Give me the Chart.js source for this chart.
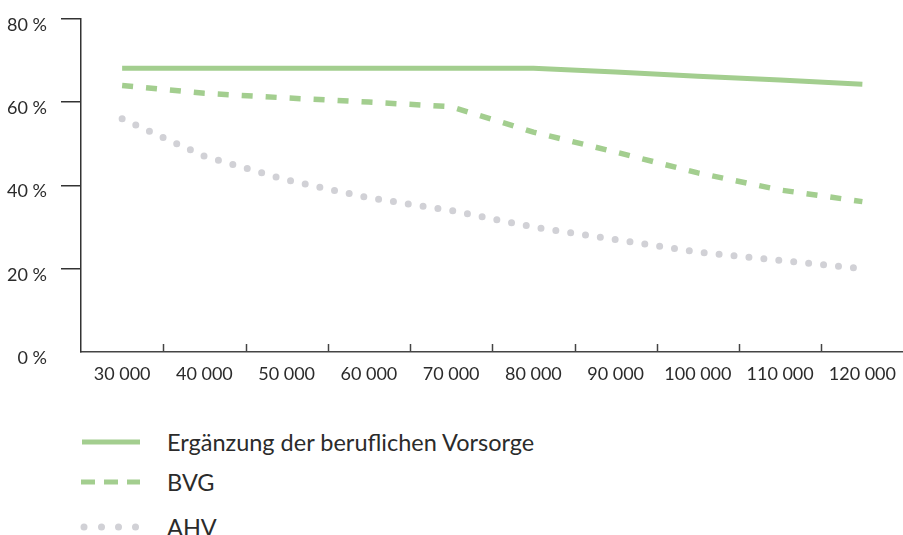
<!DOCTYPE html>
<html>
<head>
<meta charset="utf-8">
<script src="https://cdn.jsdelivr.net/npm/chart.js@4"></script>
<style>
  html, body { margin:0; padding:0; background:#fff; }
  body { width:903px; height:535px; position:relative; overflow:hidden; font-family: Lato, "Open Sans", sans-serif; color:#2b2b2b; }
  #wrap { position:absolute; left:0; top:-6px; width:907px; height:398px; }
  .item { position:absolute; left:0; width:903px; height:30px; }
  .item svg { position:absolute; left:0; top:0; }
  .item span { position:absolute; left:167px; top:0; line-height:30px; font-size:23.5px; white-space:nowrap; }
</style>
</head>
<body>
<div id="wrap"><canvas id="c"></canvas></div>
<div class="item" style="top:427px">
  <svg width="160" height="30"><line x1="82" y1="15" x2="140" y2="15" stroke="#a3ce8f" stroke-width="5"/></svg>
  <span>Ergänzung der beruflichen Vorsorge</span>
</div>
<div class="item" style="top:467px">
  <svg width="160" height="30"><line x1="81" y1="15" x2="140" y2="15" stroke="#a3ce8f" stroke-width="5" stroke-dasharray="14 9"/></svg>
  <span>BVG</span>
</div>
<div class="item" style="top:512px">
  <svg width="160" height="30"><circle cx="84" cy="15" r="3.5" fill="#d1d1d6"/><circle cx="101.5" cy="15" r="3.5" fill="#d1d1d6"/><circle cx="118.5" cy="15" r="3.5" fill="#d1d1d6"/><circle cx="135.5" cy="15" r="3.5" fill="#d1d1d6"/></svg>
  <span>AHV</span>
</div>
<script>
const categories = ['30 000','40 000','50 000','60 000','70 000','80 000','90 000','100 000','110 000','120 000'];
const ergaenzung = [68.1, 68.1, 68.1, 68.1, 68.1, 68.1, 67.2, 66.2, 65.3, 64.3];
const bvg = [64.0, 62.1, 61.0, 60.0, 58.9, 52.8, 48.0, 43.0, 38.9, 36.1];
const ahv = [56.0, 47.0, 41.3, 37.0, 34.0, 30.0, 27.0, 24.0, 22.0, 20.0];
const yTicks = [0, 20, 40, 60, 80];
const seriesNames = ['Ergänzung der beruflichen Vorsorge', 'BVG', 'AHV'];

const innerTicks = {
  id: 'innerTicks',
  afterDraw(chart) {
    const xs = chart.scales.x;
    const ctx = chart.ctx;
    const bottom = chart.chartArea.bottom;
    ctx.save();
    ctx.strokeStyle = '#444';
    ctx.lineWidth = 1.5;
    for (let i = 0; i < categories.length - 1; i++) {
      const x = Math.round((xs.getPixelForTick(i) + xs.getPixelForTick(i + 1)) / 2) + 0.5;
      ctx.beginPath();
      ctx.moveTo(x, bottom - 8);
      ctx.lineTo(x, bottom);
      ctx.stroke();
    }
    ctx.restore();
  }
};

new Chart(document.getElementById('c'), {
  type: 'line',
  data: {
    labels: categories,
    datasets: [
      { label: seriesNames[0], data: ergaenzung, borderColor: '#a3ce8f', borderWidth: 5, pointRadius: 0, tension: 0, borderCapStyle: 'butt' },
      { label: seriesNames[1], data: bvg, borderColor: '#a3ce8f', borderWidth: 5.5, borderDash: [11, 13], pointRadius: 0, tension: 0, borderCapStyle: 'butt' },
      { label: seriesNames[2], data: ahv, borderColor: '#d1d1d6', borderWidth: 7, borderDash: [0, 15], borderCapStyle: 'round', pointRadius: 0, tension: 0 }
    ]
  },
  options: {
    responsive: true,
    maintainAspectRatio: false,
    animation: false,
    events: [],
    layout: { autoPadding: false, padding: { top: 12, right: 0, left: 0, bottom: 0 } },
    plugins: { legend: { display: false }, tooltip: { enabled: false } },
    scales: {
      x: {
        offset: true,
        grid: { display: true, drawOnChartArea: false, drawTicks: false, offset: true },
        border: { display: true, color: '#444', width: 1.5 },
        ticks: { color: '#2b2b2b', font: { family: 'Lato', size: 18 }, padding: 11, maxRotation: 0, autoSkip: false },
        afterFit(s) { s.height = 40; }
      },
      y: {
        min: 0, max: 80,
        afterBuildTicks(s) { s.ticks = yTicks.map(v => ({ value: v })); },
        grid: {
          drawOnChartArea: false, drawTicks: true, tickLength: 20,
          tickColor: (c) => c.tick && c.tick.value === 0 ? 'rgba(0,0,0,0)' : '#333',
          lineWidth: 1.5
        },
        border: { display: true, color: '#333', width: 1.5 },
        ticks: {
          color: '#2b2b2b', font: { family: 'Lato', size: 18 }, padding: 14, labelOffset: 6,
          callback: (v) => v + ' %'
        },
        afterFit(s) { s.width = 81; }
      }
    }
  },
  plugins: [innerTicks]
});
</script>
</body>
</html>
